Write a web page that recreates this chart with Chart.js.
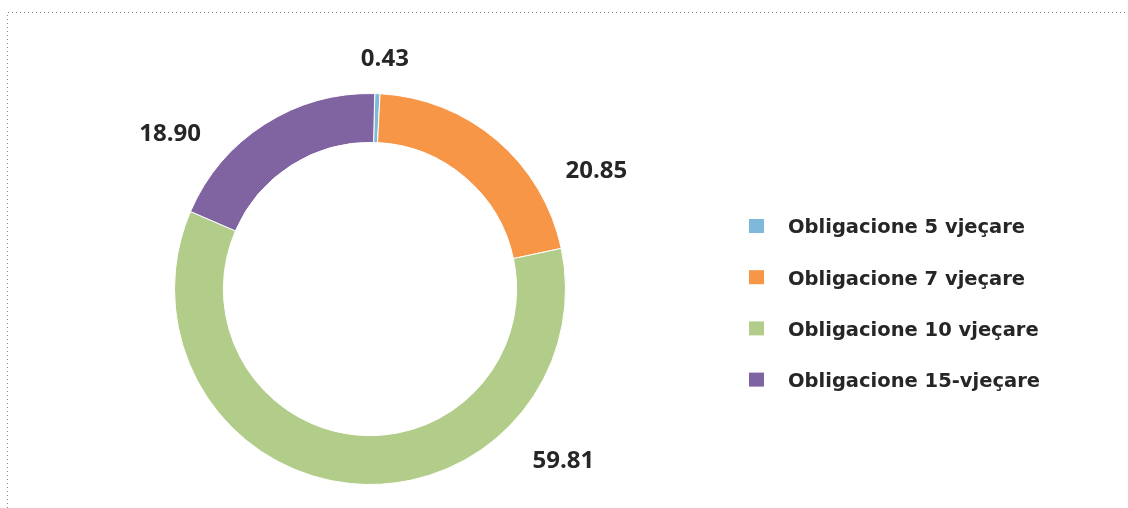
<!DOCTYPE html>
<html>
<head>
<meta charset="utf-8">
<script src="https://cdn.jsdelivr.net/npm/chart.js@4.4.1/dist/chart.umd.min.js"></script>
<style>
  html, body { margin: 0; padding: 0; background: #ffffff; }
  #wrap { position: relative; width: 1128px; height: 508px; }
  canvas { display: block; }
</style>
</head>
<body>
<div id="wrap"><canvas id="c" width="1128" height="508"></canvas></div>
<script>
const categories = ['Obligacione 5 vjeçare', 'Obligacione 7 vjeçare', 'Obligacione 10 vjeçare', 'Obligacione 15-vjeçare'];
const shares = [0.43, 20.85, 59.81, 18.90];
const colors = ['#7fb9d9', '#f79646', '#b2cd89', '#8064a2'];

// label anchors: angle in degrees clockwise from top, distance from centre
const labelAnchors = [
  { angle: 3.7, r: 230 },
  { angle: 62.6, r: 255 },
  { angle: 131.7, r: 259 },
  { angle: 307.8, r: 253 }
];

const LABEL_FONT = '"Open Sans", "DejaVu Sans", sans-serif';
const LEGEND_FONT = '"DejaVu Sans", sans-serif';

const framePlugin = {
  id: 'frame',
  beforeDraw(chart) {
    const ctx = chart.ctx;
    ctx.save();
    ctx.strokeStyle = '#8c8c8c';
    ctx.lineWidth = 1;
    ctx.setLineDash([1, 3]);
    ctx.beginPath();
    ctx.moveTo(7.5, 600);
    ctx.lineTo(7.5, 12.5);
    ctx.lineTo(1200, 12.5);
    ctx.stroke();
    ctx.restore();
  }
};

const labelPlugin = {
  id: 'valueLabels',
  afterDatasetsDraw(chart) {
    const ctx = chart.ctx;
    const meta = chart.getDatasetMeta(0);
    const arc0 = meta.data[0];
    const cx = arc0.x, cy = arc0.y;
    ctx.save();
    ctx.fillStyle = '#262626';
    ctx.font = 'bold 24px ' + LABEL_FONT;
    ctx.textAlign = 'center';
    ctx.textBaseline = 'middle';
    shares.forEach((v, i) => {
      const a = labelAnchors[i].angle * Math.PI / 180;
      const x = cx + labelAnchors[i].r * Math.sin(a);
      const y = cy - labelAnchors[i].r * Math.cos(a);
      ctx.fillText(v.toFixed(2), x, y);
    });
    ctx.restore();

    // legend
    ctx.save();
    ctx.font = 'bold 19.5px ' + LEGEND_FONT;
    ctx.textAlign = 'left';
    ctx.textBaseline = 'alphabetic';
    categories.forEach((name, i) => {
      const yc = 226 + i * 51.2;
      ctx.fillStyle = colors[i];
      ctx.fillRect(749, yc - 7, 15, 14);
      ctx.fillStyle = '#262626';
      ctx.fillText(name, 788, yc + 7.3);
    });
    ctx.restore();
  }
};

new Chart(document.getElementById('c'), {
  type: 'doughnut',
  data: {
    labels: categories,
    datasets: [{
      data: shares,
      backgroundColor: colors,
      borderColor: '#ffffff',
      borderWidth: 1
    }]
  },
  options: {
    responsive: false,
    animation: false,
    cutout: '75%',
    rotation: 1.4,
    layout: { padding: { left: 174, right: 562, top: 93, bottom: 23 } },
    plugins: {
      legend: { display: false },
      tooltip: { enabled: false }
    }
  },
  plugins: [framePlugin, labelPlugin]
});
</script>
</body>
</html>
